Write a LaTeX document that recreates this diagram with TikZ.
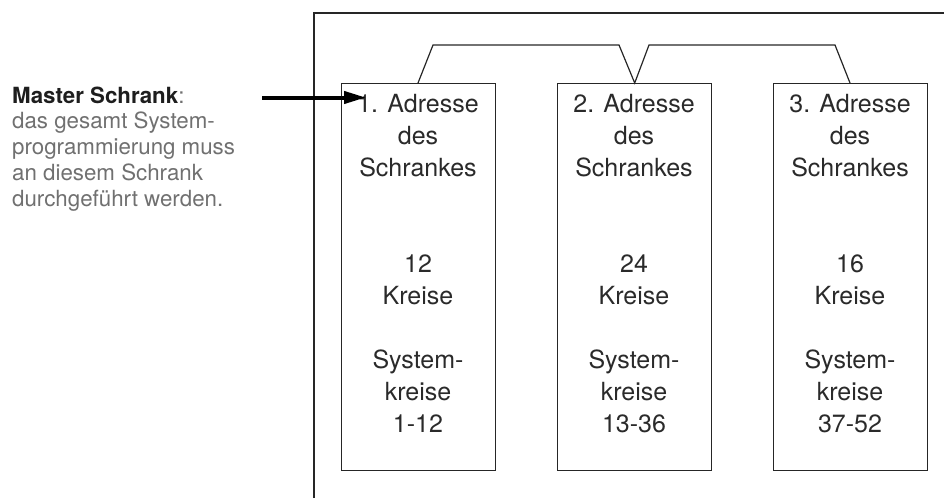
\documentclass[tikz,border=0pt]{standalone}
\usepackage{fontspec}
\setmainfont{TeX Gyre Heros}
\usetikzlibrary{arrows.meta}
\definecolor{boxtext}{HTML}{2A2A2A}
\definecolor{notetext}{HTML}{707070}
\definecolor{notehead}{HTML}{1E1E1E}
\tikzset{
  frame/.style={draw=black!85, line width=1.4pt},
  cabinet/.style={draw=black!85, line width=1.4pt, minimum width=154pt, minimum height=387pt, inner sep=0pt, anchor=north west},
  bus/.style={draw=black!85, line width=1.2pt, line join=miter},
  cabtext/.style={anchor=base, inner sep=0pt, text=boxtext, font=\fontsize{25}{32}\selectfont},
  notestyle/.style={anchor=base west, inner sep=0pt, text=notetext, font=\fontsize{22.3}{25.8}\selectfont},
  masterarrow/.style={line width=4pt, -{Triangle[length=22pt, width=12pt]}},
}
\begin{document}
\begin{tikzpicture}[x=1pt, y=-1pt]
\useasboundingbox (0,0) rectangle (944,498);

% open outer frame running off the page
\draw[frame] (314,498) -- (314,13) -- (944,13);

% the three cabinets
\node[cabinet] (c1) at (341,83) {};
\node[cabinet] (c2) at (557,83) {};
\node[cabinet] (c3) at (773,83) {};

\node[cabtext] (t1) at (418,112) {\begin{tabular}[t]{@{}c@{}}1. Adresse\\des\\Schrankes\\ \\ \\12\\Kreise\\ \\System-\\kreise\\1-12\end{tabular}};
\node[cabtext] (t2) at (634,112) {\begin{tabular}[t]{@{}c@{}}2. Adresse\\des\\Schrankes\\ \\ \\24\\Kreise\\ \\System-\\kreise\\13-36\end{tabular}};
\node[cabtext] (t3) at (850,112) {\begin{tabular}[t]{@{}c@{}}3. Adresse\\des\\Schrankes\\ \\ \\16\\Kreise\\ \\System-\\kreise\\37-52\end{tabular}};

% bus connecting the cabinets
\coordinate (a1) at (418,83);
\coordinate (b1) at (433,45);
\coordinate (b2) at (619,45);
\coordinate (b3) at (649,45);
\coordinate (b4) at (835,45);
\coordinate (a3) at (850,83);
\draw[bus] (a1) -- (b1) -- (b2) -- (c2.north) -- (b3) -- (b4) -- (a3);

% master cabinet note
\node[notestyle] (note) at (12,103)
  {\begin{tabular}[t]{@{}l@{}}{\bfseries\color{notehead}Master Schrank}:\\das gesamt System-\\programmierung muss\\an diesem Schrank\\durchgeführt werden.\end{tabular}};

\coordinate (arrowstart) at (262,97.5);
\coordinate (tip) at (366,97.5);
\draw[masterarrow] (arrowstart) -- (tip);
\end{tikzpicture}
\end{document}
